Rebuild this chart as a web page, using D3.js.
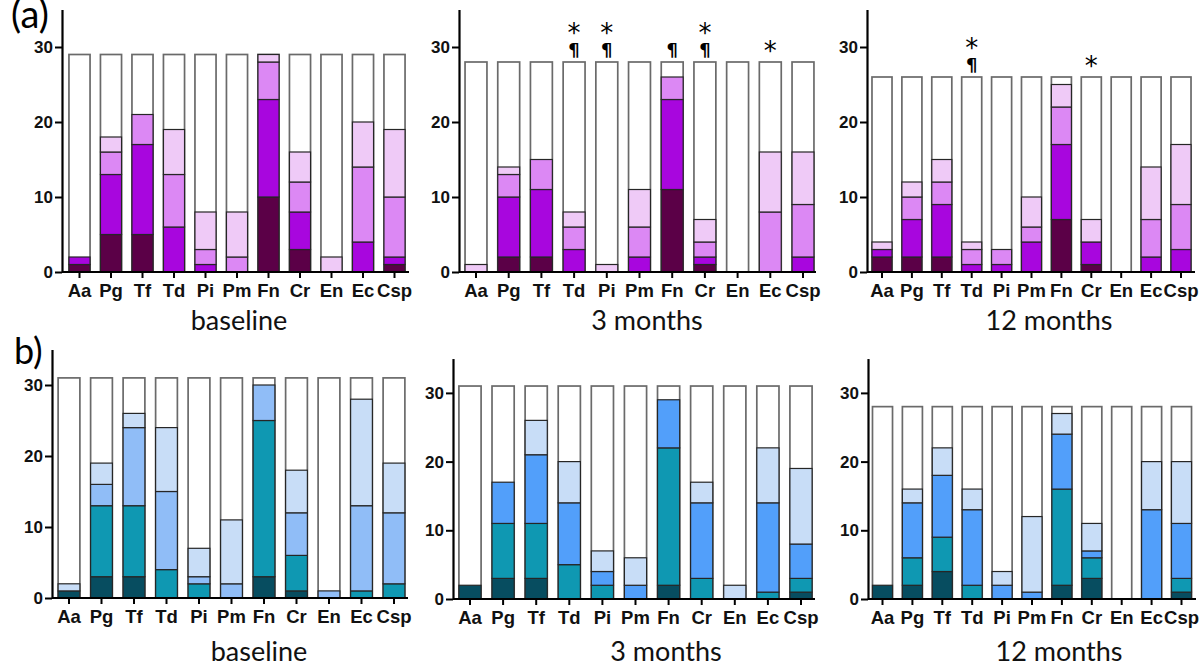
<!DOCTYPE html>
<html>
<head>
<meta charset="utf-8">
<script src="https://cdn.jsdelivr.net/npm/d3@7"></script>
<style>
  body { margin: 0; background: #fff; }
  svg { display: block; }
</style>
</head>
<body>
<svg id="chart" width="1203" height="670"></svg>
<script>
// Categories on every x axis
const categories = ["Aa", "Pg", "Tf", "Td", "Pi", "Pm", "Fn", "Cr", "En", "Ec", "Csp"];
const yTicks = [0, 10, 20, 30];

// Row a - stacked levels, darkest first (one value per category)
const aBaseline = [
  [1, 5, 5, 0, 0, 0, 10, 3, 0, 0, 1],
  [1, 8, 12, 6, 1, 0, 13, 5, 0, 4, 1],
  [0, 3, 4, 7, 2, 2, 5, 4, 0, 10, 8],
  [0, 2, 0, 6, 5, 6, 1, 4, 2, 6, 9]
];
const aMonth3 = [
  [0, 2, 2, 0, 0, 0, 11, 1, 0, 0, 0],
  [0, 8, 9, 3, 0, 2, 12, 1, 0, 0, 2],
  [0, 3, 4, 3, 0, 4, 3, 2, 0, 8, 7],
  [1, 1, 0, 2, 1, 5, 0, 3, 0, 8, 7]
];
const aMonth12 = [
  [2, 2, 2, 0, 0, 0, 7, 1, 0, 0, 0],
  [1, 5, 7, 1, 1, 4, 10, 3, 0, 2, 3],
  [0, 3, 3, 2, 2, 2, 5, 0, 0, 5, 6],
  [1, 2, 3, 1, 0, 4, 3, 3, 0, 7, 8]
];

// Row b
const bBaseline = [
  [1, 3, 3, 0, 0, 0, 3, 1, 0, 0, 0],
  [0, 10, 10, 4, 2, 0, 22, 5, 0, 1, 2],
  [0, 3, 11, 11, 1, 2, 5, 6, 1, 12, 10],
  [1, 3, 2, 9, 4, 9, 0, 6, 0, 15, 7]
];
const bMonth3 = [
  [2, 3, 3, 0, 0, 0, 2, 0, 0, 0, 1],
  [0, 8, 8, 5, 2, 0, 20, 3, 0, 1, 2],
  [0, 6, 10, 9, 2, 2, 7, 11, 0, 13, 5],
  [0, 0, 5, 6, 3, 4, 0, 3, 2, 8, 11]
];
const bMonth12 = [
  [2, 2, 4, 0, 0, 0, 2, 3, 0, 0, 1],
  [0, 4, 5, 2, 0, 0, 14, 3, 0, 0, 2],
  [0, 8, 9, 11, 2, 1, 8, 1, 0, 13, 8],
  [0, 2, 4, 3, 2, 11, 3, 4, 0, 7, 9]
];

// Number of subjects (full bar height) per panel
const aTotals = [29, 28, 26];
const bTotals = [31, 31, 28];

// Significance markers above bars
const aMonth3Marks = { Td: "*¶", Pi: "*¶", Fn: "¶", Cr: "*¶", Ec: "*" };
const aMonth12Marks = { Td: "*¶", Cr: "*" };

const titles = ["baseline", "3 months", "12 months"];

// Colours
const purples = ["#5b0047", "#a806de", "#dc88f4", "#efcaf7"];
const blues = ["#074d60", "#0f98b2", "#529ffa", "#c8ddf7"];
const bluesBaseline = ["#074d60", "#0f98b2", "#90bdf7", "#c8ddf7"];

const Y_MAX = 35;
const PAD = 0.33;

const panels = [
  { series: aBaseline, total: aTotals[0], colors: purples, title: titles[0], marks: null,
    axisX: 62, c0: 79.5, cN: 394.5, y0: 272, xEnd: 409, titleX: 239, titleY: 330 },
  { series: aMonth3, total: aTotals[1], colors: purples, title: titles[1], marks: aMonth3Marks,
    axisX: 459, c0: 476, cN: 803, y0: 272, xEnd: 816, titleX: 647, titleY: 330 },
  { series: aMonth12, total: aTotals[2], colors: purples, title: titles[2], marks: aMonth12Marks,
    axisX: 867, c0: 882, cN: 1181, y0: 272, xEnd: 1195, titleX: 1049, titleY: 330 },
  { series: bBaseline, total: bTotals[0], colors: bluesBaseline, title: titles[0], marks: null,
    axisX: 52, c0: 69, cN: 394, y0: 598, xEnd: 408, titleX: 259, titleY: 661 },
  { series: bMonth3, total: bTotals[1], colors: blues, title: titles[1], marks: null,
    axisX: 453, c0: 470, cN: 801, y0: 599, xEnd: 815, titleX: 666, titleY: 661 },
  { series: bMonth12, total: bTotals[2], colors: blues, title: titles[2], marks: null,
    axisX: 868, c0: 882.5, cN: 1181.5, y0: 599, xEnd: 1196, titleX: 1059, titleY: 661 }
];

// pixels per unit for each row
const unitA = 7.5;
const unitB0 = 7.1;
const unitB = 6.87;

const svg = d3.select("#chart");

const drawPanel = (p, unit) => {
  const g = svg.append("g");
  const keys = p.series.map((_, i) => "l" + i);

  const rows = categories.map((c, i) => {
    const row = { cat: c };
    p.series.forEach((s, j) => (row["l" + j] = s[i]));
    return row;
  });
  const stacked = d3.stack().keys(keys)(rows);

  const y = d3.scaleLinear().domain([0, Y_MAX]).range([p.y0, p.y0 - Y_MAX * unit]);
  const step = (p.cN - p.c0) / (categories.length - 1);
  const x = d3
    .scaleBand()
    .domain(categories)
    .range([p.c0 - step / 2, p.cN + step / 2])
    .paddingInner(PAD)
    .paddingOuter(PAD / 2);

  // White outline of full bar
  g.selectAll("rect.full")
    .data(categories)
    .enter()
    .append("rect")
    .attr("class", "full")
    .attr("x", (d) => x(d))
    .attr("y", y(p.total))
    .attr("width", x.bandwidth())
    .attr("height", y(0) - y(p.total))
    .style("fill", "#fff")
    .style("stroke", "#6a6a6a")
    .style("stroke-width", 1.7);

  // Coloured segments
  stacked.forEach((layer, li) => {
    g.selectAll("rect.seg" + li)
      .data(layer.filter((d) => d[1] > d[0]))
      .enter()
      .append("rect")
      .attr("class", "seg" + li)
      .attr("x", (d) => x(d.data.cat))
      .attr("y", (d) => y(d[1]))
      .attr("width", x.bandwidth())
      .attr("height", (d) => y(d[0]) - y(d[1]))
      .style("fill", p.colors[li])
      .style("stroke", "#262626")
      .style("stroke-width", 1.2);
  });

  // Significance markers
  if (p.marks) {
    const top = y(p.total);
    Object.entries(p.marks).forEach(([cat, m]) => {
      const cx = x(cat) + x.bandwidth() / 2;
      const hasPil = m.includes("¶");
      if (hasPil) {
        g.append("text")
          .attr("x", cx)
          .attr("y", top - 6)
          .attr("text-anchor", "middle")
          .style("font-family", "DejaVu Sans")
          .style("font-weight", "bold")
          .style("font-size", "18px")
          .text("¶");
      }
      if (m.includes("*")) {
        g.append("text")
          .attr("x", cx)
          .attr("y", hasPil ? top - 20 : top - 2)
          .attr("text-anchor", "middle")
          .style("font-family", "DejaVu Sans")
          .style("font-size", "26px")
          .text("*");
      }
    });
  }

  // y axis
  const ya = g
    .append("g")
    .attr("transform", `translate(${p.axisX},0)`)
    .call(d3.axisLeft(y).tickValues(yTicks).tickSize(7).tickSizeOuter(0).tickPadding(2));

  // x axis
  const xa = g
    .append("g")
    .attr("transform", `translate(0,${p.y0})`)
    .call(d3.axisBottom(x).tickSize(6).tickSizeOuter(0).tickPadding(6));
  xa.select(".domain").attr("d", `M${p.axisX},0H${p.xEnd}`);

  [ya, xa].forEach((a) => {
    a.select(".domain").style("stroke", "#000").style("stroke-width", 2.2);
    a.selectAll(".tick line").style("stroke", "#000").style("stroke-width", 2);
    a.selectAll("text")
      .style("font-family", "Liberation Sans, Arial, sans-serif")
      .style("font-weight", "bold")
      .style("fill", "#111");
  });
  ya.selectAll("text").style("font-size", "17px");
  xa.selectAll("text").style("font-size", "18.5px");

  // panel title
  g.append("text")
    .attr("x", p.titleX)
    .attr("y", p.titleY)
    .attr("text-anchor", "middle")
    .style("font-family", "Lato, sans-serif")
    .style("font-size", "27px")
    .style("fill", "#111")
    .text(p.title);
};

panels.forEach((p, i) => drawPanel(p, i < 3 ? unitA : i === 3 ? unitB0 : unitB));

// Row labels
svg.append("text")
  .attr("x", 11)
  .attr("y", 28)
  .style("font-family", "Lato, sans-serif")
  .style("font-size", "38px")
  .text("(a)");

svg.append("text")
  .attr("x", 14)
  .attr("y", 364)
  .style("font-family", "Lato, sans-serif")
  .style("font-size", "36px")
  .text("b)");
</script>
</body>
</html>
